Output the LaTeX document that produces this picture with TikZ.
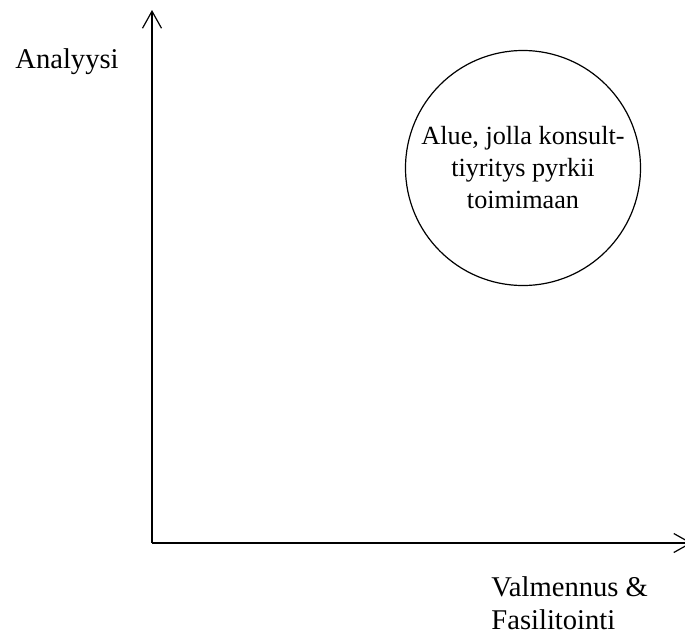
\documentclass[tikz,border=0pt]{standalone}
\usepackage{fontspec}
\setmainfont{Liberation Serif}
\usetikzlibrary{positioning,arrows.meta}

\begin{document}
\begin{tikzpicture}[x=0.5pt, y=-0.5pt,
		axis/.style={line width=0.6pt, -{Straight Barb[length=8.5pt,width=9.5pt]}},
		label/.style={inner sep=0pt, align=left, font=\fontsize{14.3pt}{16.5pt}\selectfont},
		area/.style={circle, draw, line width=0.6pt, minimum size=117.5pt, inner sep=0pt, align=center, font=\fontsize{13.1pt}{16pt}\selectfont}
	]
	\useasboundingbox (0,0) rectangle (685,633);
	\coordinate (origin) at (152,543);
	\coordinate (ytop) at (152,10);
	\coordinate (xend) at (692,543);
	\draw[axis] (origin) -- (ytop);
	\draw[axis] (origin) -- (xend);
	\node[label, anchor=base west] (yname) at (15,68) {Analyysi};
	\node[label, anchor=north west] (xname) at (491,576) {Valmennus \&\\Fasilitointi};
	\node[area] (zone) at (523,168) {Alue, jolla konsult-\\tiyritys pyrkii\\toimimaan};
\end{tikzpicture}
\end{document}
